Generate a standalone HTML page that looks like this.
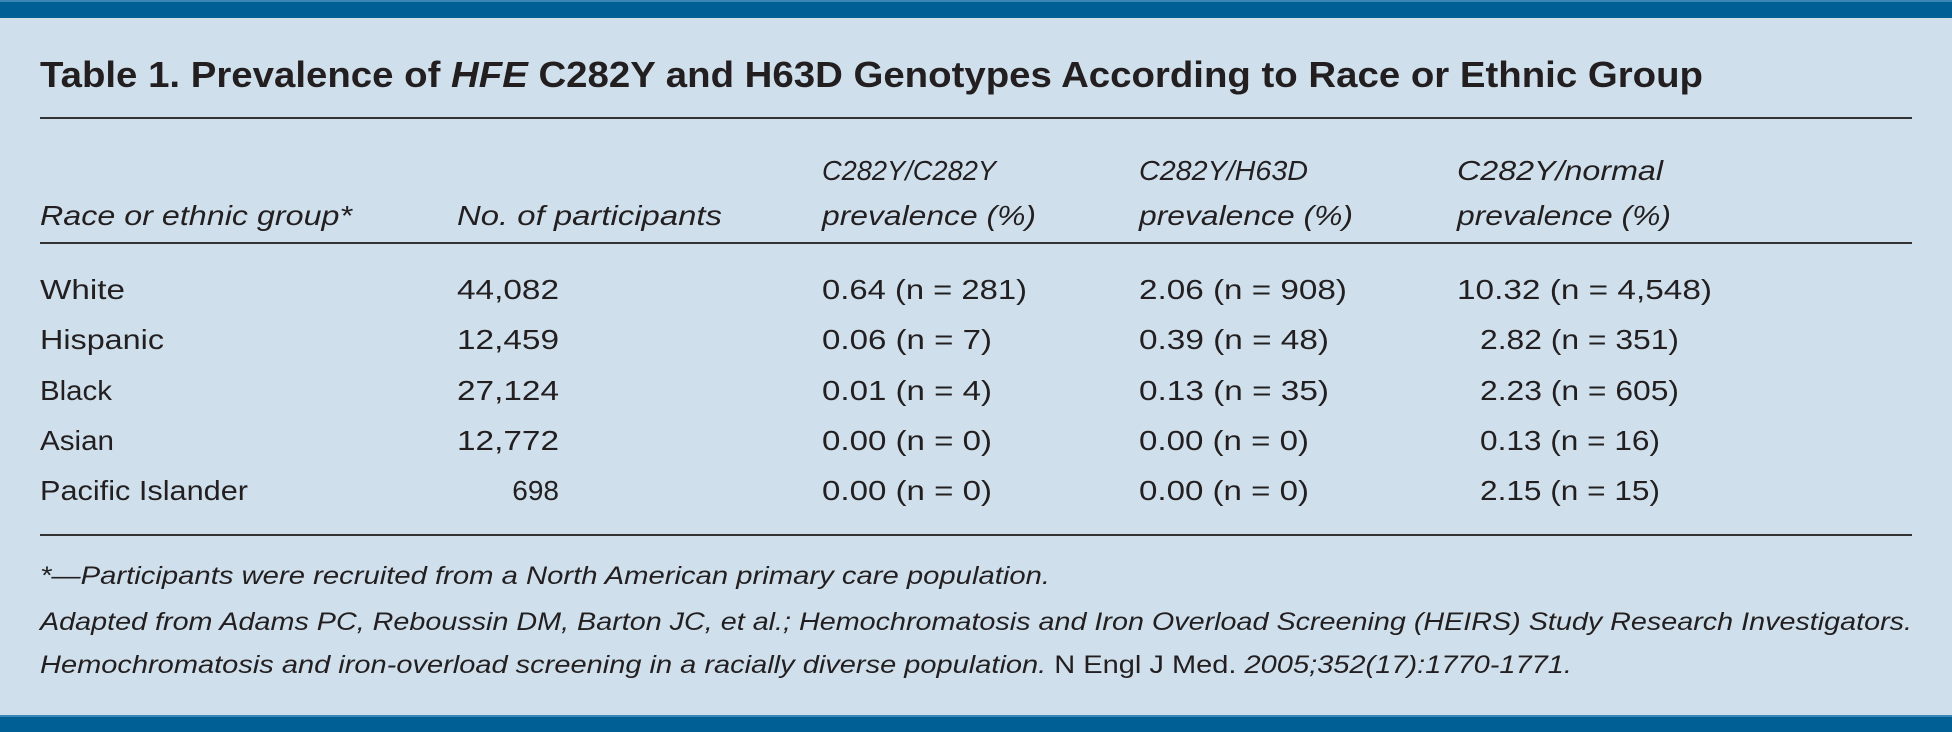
<!DOCTYPE html>
<html><head><meta charset="utf-8"><style>
html,body{margin:0;padding:0;background:#cfe0ec;}
svg{display:block}
text{font-family:"Liberation Sans",sans-serif;fill:#231f20;}
</style></head><body>
<svg width="1952" height="732" xmlns="http://www.w3.org/2000/svg">
<rect width="1952" height="732" fill="#cfe0ec"/>
<rect x="0" y="0" width="1952" height="18" fill="#005f94"/>
<rect x="0" y="0" width="1952" height="2" fill="#3a86b4"/>
<rect x="0" y="715" width="1952" height="17" fill="#005f94"/>
<rect x="0" y="715" width="1952" height="2" fill="#3a86b4"/>
<text x="40" y="87" font-size="36" font-weight="bold" textLength="1663" lengthAdjust="spacingAndGlyphs">Table 1. Prevalence of <tspan font-style="italic">HFE</tspan> C282Y and H63D Genotypes According to Race or Ethnic Group</text>
<rect x="40" y="117" width="1872" height="2" fill="#333"/>
<g font-size="28" font-style="italic">
<text x="822" y="180" textLength="174" lengthAdjust="spacingAndGlyphs">C282Y/C282Y</text>
<text x="1139" y="180" textLength="169" lengthAdjust="spacingAndGlyphs">C282Y/H63D</text>
<text x="1457" y="180" textLength="206" lengthAdjust="spacingAndGlyphs">C282Y/normal</text>
<text x="40" y="225" textLength="312" lengthAdjust="spacingAndGlyphs">Race or ethnic group*</text>
<text x="457" y="225" textLength="265" lengthAdjust="spacingAndGlyphs">No. of participants</text>
<text x="822" y="225" textLength="214" lengthAdjust="spacingAndGlyphs">prevalence (%)</text>
<text x="1139" y="225" textLength="214" lengthAdjust="spacingAndGlyphs">prevalence (%)</text>
<text x="1457" y="225" textLength="214" lengthAdjust="spacingAndGlyphs">prevalence (%)</text>
</g>
<rect x="40" y="242" width="1872" height="2" fill="#333"/>
<g font-size="28">
<text x="40" y="299" textLength="85" lengthAdjust="spacingAndGlyphs">White</text>
<text x="40" y="349" textLength="124" lengthAdjust="spacingAndGlyphs">Hispanic</text>
<text x="40" y="400" textLength="72" lengthAdjust="spacingAndGlyphs">Black</text>
<text x="40" y="450" textLength="74" lengthAdjust="spacingAndGlyphs">Asian</text>
<text x="40" y="500" textLength="208" lengthAdjust="spacingAndGlyphs">Pacific Islander</text>
<text x="457" y="299" textLength="102" lengthAdjust="spacingAndGlyphs">44,082</text>
<text x="457" y="349" textLength="102" lengthAdjust="spacingAndGlyphs">12,459</text>
<text x="457" y="400" textLength="102" lengthAdjust="spacingAndGlyphs">27,124</text>
<text x="457" y="450" textLength="102" lengthAdjust="spacingAndGlyphs">12,772</text>
<text x="559" y="500" text-anchor="end">698</text>
<text x="822" y="299" textLength="205" lengthAdjust="spacingAndGlyphs">0.64 (n = 281)</text>
<text x="822" y="349" textLength="170" lengthAdjust="spacingAndGlyphs">0.06 (n = 7)</text>
<text x="822" y="400" textLength="170" lengthAdjust="spacingAndGlyphs">0.01 (n = 4)</text>
<text x="822" y="450" textLength="170" lengthAdjust="spacingAndGlyphs">0.00 (n = 0)</text>
<text x="822" y="500" textLength="170" lengthAdjust="spacingAndGlyphs">0.00 (n = 0)</text>
<text x="1139" y="299" textLength="208" lengthAdjust="spacingAndGlyphs">2.06 (n = 908)</text>
<text x="1139" y="349" textLength="190" lengthAdjust="spacingAndGlyphs">0.39 (n = 48)</text>
<text x="1139" y="400" textLength="190" lengthAdjust="spacingAndGlyphs">0.13 (n = 35)</text>
<text x="1139" y="450" textLength="170" lengthAdjust="spacingAndGlyphs">0.00 (n = 0)</text>
<text x="1139" y="500" textLength="170" lengthAdjust="spacingAndGlyphs">0.00 (n = 0)</text>
<text x="1457" y="299" textLength="255" lengthAdjust="spacingAndGlyphs">10.32 (n = 4,548)</text>
<text x="1480" y="349" textLength="199" lengthAdjust="spacingAndGlyphs">2.82 (n = 351)</text>
<text x="1480" y="400" textLength="199" lengthAdjust="spacingAndGlyphs">2.23 (n = 605)</text>
<text x="1480" y="450" textLength="180" lengthAdjust="spacingAndGlyphs">0.13 (n = 16)</text>
<text x="1480" y="500" textLength="180" lengthAdjust="spacingAndGlyphs">2.15 (n = 15)</text>
</g>
<rect x="40" y="534" width="1872" height="2" fill="#333"/>
<g font-size="25" font-style="italic">
<text x="40" y="584" textLength="1010" lengthAdjust="spacingAndGlyphs">*—Participants were recruited from a North American primary care population.</text>
<text x="40" y="630" textLength="1872" lengthAdjust="spacingAndGlyphs">Adapted from Adams PC, Reboussin DM, Barton JC, et al.; Hemochromatosis and Iron Overload Screening (HEIRS) Study Research Investigators.</text>
<text x="40" y="673" textLength="1532" lengthAdjust="spacingAndGlyphs">Hemochromatosis and iron-overload screening in a racially diverse population. <tspan font-style="normal">N Engl J Med.</tspan> 2005;352(17):1770-1771.</text>
</g>
</svg>
</body></html>
